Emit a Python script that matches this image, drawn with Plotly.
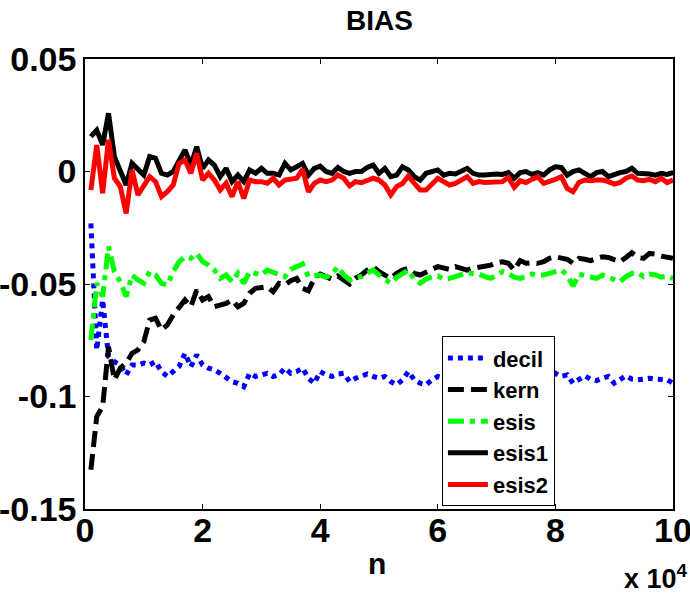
import plotly.graph_objects as go

# sample sizes n = 1000, 2000, ..., 100000
n = [1000 * k for k in range(1, 101)]

decil = [
    -0.0231, -0.0793, -0.0571, -0.0823, -0.0845, -0.0860, -0.0904, -0.0860, -0.0860, -0.0852,
    -0.0860, -0.0845, -0.0889, -0.0911, -0.0889, -0.0867, -0.0808, -0.0867, -0.0815, -0.0860,
    -0.0874, -0.0882, -0.0897, -0.0919, -0.0934, -0.0941, -0.0956, -0.0897, -0.0911, -0.0904,
    -0.0897, -0.0911, -0.0904, -0.0874, -0.0897, -0.0889, -0.0874, -0.0919, -0.0941, -0.0889,
    -0.0904, -0.0911, -0.0900, -0.0897, -0.0934, -0.0919, -0.0911, -0.0900, -0.0911, -0.0919,
    -0.0911, -0.0934, -0.0948, -0.0926, -0.0889, -0.0926, -0.0941, -0.0948, -0.0926, -0.0911,
    -0.0919, -0.0904, -0.0926, -0.0911, -0.0934, -0.0919, -0.0904, -0.0926, -0.0911, -0.0919,
    -0.0934, -0.0911, -0.0904, -0.0926, -0.0919, -0.0911, -0.0926, -0.0904, -0.0919, -0.0897,
    -0.0911, -0.0904, -0.0941, -0.0923, -0.0908, -0.0923, -0.0929, -0.0919, -0.0911, -0.0941,
    -0.0923, -0.0908, -0.0923, -0.0926, -0.0923, -0.0919, -0.0923, -0.0923, -0.0926, -0.0941,
]

kern = [
    -0.1326, -0.1089, -0.1045, -0.0779, -0.0926, -0.0874, -0.0852, -0.0808, -0.0793, -0.0756,
    -0.0660, -0.0652, -0.0704, -0.0682, -0.0638, -0.0608, -0.0571, -0.0601, -0.0527, -0.0571,
    -0.0556, -0.0601, -0.0593, -0.0586, -0.0571, -0.0601, -0.0586, -0.0541, -0.0519, -0.0515,
    -0.0512, -0.0534, -0.0497, -0.0504, -0.0485, -0.0475, -0.0519, -0.0530, -0.0475, -0.0456,
    -0.0467, -0.0479, -0.0464, -0.0485, -0.0500, -0.0475, -0.0460, -0.0438, -0.0423, -0.0445,
    -0.0460, -0.0475, -0.0453, -0.0438, -0.0430, -0.0453, -0.0460, -0.0445, -0.0435, -0.0423,
    -0.0430, -0.0435, -0.0423, -0.0430, -0.0438, -0.0430, -0.0426, -0.0423, -0.0416, -0.0405,
    -0.0401, -0.0408, -0.0438, -0.0396, -0.0408, -0.0405, -0.0408, -0.0401, -0.0386, -0.0379,
    -0.0382, -0.0390, -0.0408, -0.0386, -0.0390, -0.0396, -0.0386, -0.0379, -0.0382, -0.0390,
    -0.0401, -0.0382, -0.0361, -0.0382, -0.0386, -0.0364, -0.0367, -0.0376, -0.0379, -0.0386,
]

esis = [
    -0.0749, -0.0497, -0.0556, -0.0334, -0.0445, -0.0490, -0.0556, -0.0460, -0.0482, -0.0497,
    -0.0445, -0.0460, -0.0497, -0.0504, -0.0445, -0.0401, -0.0379, -0.0386, -0.0364, -0.0401,
    -0.0416, -0.0438, -0.0475, -0.0460, -0.0490, -0.0453, -0.0497, -0.0445, -0.0453, -0.0460,
    -0.0438, -0.0450, -0.0460, -0.0468, -0.0435, -0.0423, -0.0411, -0.0467, -0.0464, -0.0460,
    -0.0470, -0.0456, -0.0423, -0.0460, -0.0482, -0.0470, -0.0467, -0.0453, -0.0438, -0.0460,
    -0.0482, -0.0497, -0.0470, -0.0453, -0.0438, -0.0479, -0.0497, -0.0479, -0.0467, -0.0464,
    -0.0479, -0.0475, -0.0467, -0.0460, -0.0450, -0.0453, -0.0456, -0.0467, -0.0475, -0.0460,
    -0.0445, -0.0453, -0.0470, -0.0475, -0.0464, -0.0456, -0.0460, -0.0460, -0.0453, -0.0445,
    -0.0438, -0.0460, -0.0509, -0.0456, -0.0464, -0.0470, -0.0475, -0.0460, -0.0470, -0.0482,
    -0.0490, -0.0467, -0.0453, -0.0450, -0.0467, -0.0456, -0.0460, -0.0470, -0.0464, -0.0475,
]

esis1 = [
    0.0155, 0.0184, 0.0118, 0.0259, 0.0066, 0.0007, -0.0060, 0.0036, 0.0007, -0.0016,
    0.0066, 0.0059, -0.0008, -0.0016, 0.0000, 0.0044, 0.0096, 0.0029, 0.0110, 0.0014,
    0.0051, 0.0029, -0.0023, 0.0014, -0.0045, -0.0016, -0.0045, 0.0007, -0.0008, 0.0014,
    -0.0008, -0.0008, -0.0016, 0.0036, 0.0007, 0.0021, 0.0036, -0.0016, 0.0014, 0.0024,
    0.0000, -0.0008, 0.0018, 0.0000, -0.0008, 0.0000, 0.0000, 0.0018, 0.0029, -0.0008,
    0.0014, -0.0023, -0.0016, 0.0021, 0.0007, -0.0023, -0.0038, -0.0008, 0.0000, 0.0007,
    -0.0016, -0.0008, -0.0011, 0.0000, 0.0014, -0.0008, -0.0016, -0.0016, -0.0011, -0.0011,
    -0.0013, -0.0005, -0.0030, -0.0005, 0.0000, -0.0013, -0.0005, -0.0016, 0.0007, 0.0021,
    0.0018, -0.0016, 0.0000, 0.0007, -0.0008, -0.0023, -0.0005, 0.0000, -0.0023, -0.0011,
    -0.0005, 0.0000, 0.0014, -0.0008, -0.0008, -0.0011, -0.0016, -0.0008, -0.0013, -0.0005,
]

esis2 = [
    -0.0082, 0.0118, -0.0097, 0.0141, -0.0030, -0.0067, -0.0186, 0.0007, -0.0104, -0.0067,
    -0.0023, -0.0045, -0.0112, -0.0090, -0.0060, 0.0036, 0.0051, -0.0008, 0.0081, -0.0038,
    -0.0008, -0.0038, -0.0082, -0.0052, -0.0112, -0.0045, -0.0120, -0.0038, -0.0045, -0.0045,
    -0.0052, -0.0030, -0.0060, -0.0038, -0.0035, -0.0030, 0.0010, -0.0090, -0.0053, -0.0038,
    -0.0045, -0.0038, -0.0016, -0.0030, -0.0064, -0.0045, -0.0050, -0.0038, -0.0030, -0.0038,
    -0.0060, -0.0104, -0.0067, -0.0053, -0.0020, -0.0053, -0.0082, -0.0082, -0.0053, -0.0030,
    -0.0045, -0.0060, -0.0053, -0.0038, -0.0023, -0.0053, -0.0045, -0.0049, -0.0048, -0.0046,
    -0.0045, -0.0026, -0.0070, -0.0041, -0.0049, -0.0035, -0.0023, -0.0053, -0.0045, -0.0035,
    -0.0023, -0.0075, -0.0090, -0.0049, -0.0038, -0.0041, -0.0038, -0.0038, -0.0045, -0.0056,
    -0.0049, -0.0030, -0.0020, -0.0038, -0.0041, -0.0035, -0.0045, -0.0030, -0.0049, -0.0038,
]

x_ticks = [0, 20000, 40000, 60000, 80000, 100000]
x_labels = ["0", "2", "4", "6", "8", "10"]
y_ticks = [-0.15, -0.1, -0.05, 0, 0.05]
y_labels = ["-0.15", "-0.1", "-0.05", "0", "0.05"]

FONT = "Liberation Sans, Arial, sans-serif"

series = [
    ("decil", decil, "#0000ff", "5px,5px", 5),
    ("kern", kern, "#000000", "16px,7px", 5),
    ("esis", esis, "#00ff00", "16px,6px,5px,6px", 5),
    ("esis1", esis1, "#000000", "solid", 5),
    ("esis2", esis2, "#ff0000", "solid", 5),
]

fig = go.Figure()
for name, vals, color, dash, w in series:
    fig.add_trace(go.Scatter(
        x=n, y=vals, mode="lines", name=name,
        line=dict(color=color, width=w, dash=dash),
    ))

axis_common = dict(
    showline=True, linecolor="black", linewidth=1.5, mirror="ticks",
    ticks="inside", ticklen=5, tickcolor="black", showgrid=False, zeroline=False,
    automargin=False, ticklabeloverflow="allow",
    tickfont=dict(family=FONT, size=34, color="black", weight="bold"),
)

fig.update_layout(
    width=690, height=596,
    margin=dict(l=85, r=17, t=59, b=87),
    paper_bgcolor="white", plot_bgcolor="white",
    title=dict(text="BIAS", x=0.55, xanchor="center", y=0.966, yanchor="middle",
               font=dict(family=FONT, size=28, color="black", weight="bold")),
    xaxis=dict(range=[0, 100000], tickvals=x_ticks, ticktext=x_labels,
               ticklabelstandoff=-10, **axis_common),
    yaxis=dict(range=[-0.15, 0.05], tickvals=y_ticks, ticktext=y_labels,
               ticklabelstandoff=0, **axis_common),
    legend=dict(x=0.607, y=0.384, xanchor="left", yanchor="top",
                bgcolor="white", bordercolor="black", borderwidth=1,
                font=dict(family=FONT, size=22, color="black", weight="bold"),
                tracegroupgap=0, itemwidth=40),
    showlegend=True,
)

# axis label and exponent note under the x axis
fig.add_annotation(
    text="n", xref="paper", yref="paper", x=(377 - 85) / 588, y=-(563 - 509) / 450,
    xanchor="center", yanchor="middle", showarrow=False,
    font=dict(family=FONT, size=30, color="black", weight="bold"),
)
fig.add_annotation(
    text="x 10<sup>4</sup>", xref="paper", yref="paper", x=(690 - 85) / 588,
    y=-(577 - 509) / 450, xanchor="right", yanchor="middle", showarrow=False,
    font=dict(family=FONT, size=27, color="black", weight="bold"),
)

fig.write_html("out.html")
